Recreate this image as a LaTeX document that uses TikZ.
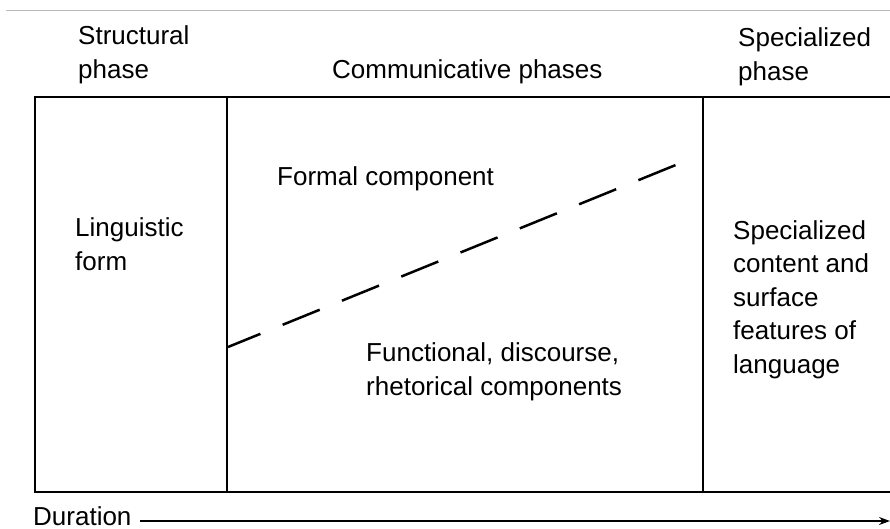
\documentclass[tikz,border=0pt]{standalone}
\usepackage{fontspec}
\setmainfont{Liberation Sans}
\usetikzlibrary{arrows.meta}
\begin{document}
\begin{tikzpicture}[x=1pt,y=-1pt,
  lbl/.style={inner sep=0pt,anchor=base west,align=left,font=\fontsize{26}{33.5}\selectfont},
  frame/.style={line width=2.8pt,line cap=rect},
  dashline/.style={line width=2.5pt,dash pattern=on 40pt off 24pt}]
\useasboundingbox (0,0) rectangle (890,528);
% faint scan rule at top
\coordinate (gl) at (6,10);
\coordinate (gr) at (890,10);
\draw[gray!55,line width=1pt] (gl) -- (gr);
% frame corners
\coordinate (tl) at (35,97);
\coordinate (tr) at (892,97);
\coordinate (bl) at (35,492);
\coordinate (br) at (892,492);
\coordinate (d1t) at (227,97);
\coordinate (d1b) at (227,492);
\coordinate (d2t) at (703,97);
\coordinate (d2b) at (703,492);
\draw[frame] (tr) -- (tl) -- (bl) -- (br);
\draw[frame] (d1t) -- (d1b);
\draw[frame] (d2t) -- (d2b);
% dashed boundary
\coordinate (ds) at (228,347);
\coordinate (de) at (688,160);
\draw[dashline,dash phase=5pt] (ds) -- (de);
% headings (anchor = baseline of last line)
\node[lbl] (structural) at (78,78) {Structural\\phase};
\node[lbl] (communicative) at (332,78) {Communicative phases};
\node[lbl] (specialized) at (738,80) {Specialized\\phase};
% inner texts
\node[lbl] (linguistic) at (75,270) {Linguistic\\form};
\node[lbl] (formal) at (277,185) {Formal component};
\node[lbl] (functional) at (366,395) {Functional, discourse,\\rhetorical components};
\node[lbl] (content) at (733,373) {Specialized\\content and\\surface\\features of\\language};
% duration axis
\node[lbl] (duration) at (33,525) {Duration};
\coordinate (as) at (140,521);
\coordinate (ae) at (890,521);
\draw[line width=1.4pt,-{Stealth[length=11pt,width=8pt]}] (as) -- (ae);
\end{tikzpicture}
\end{document}
